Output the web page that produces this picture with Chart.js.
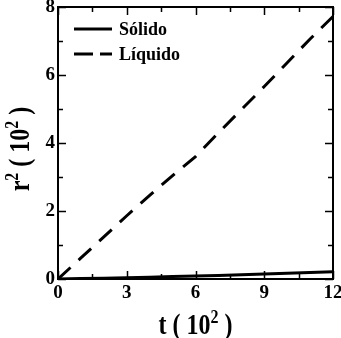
<!DOCTYPE html>
<html>
<head>
<meta charset="utf-8">
<script src="https://cdn.jsdelivr.net/npm/chart.js@4/dist/chart.umd.min.js"></script>
<style>
  html, body { margin: 0; padding: 0; background: #fff; }
  #c { display: block; }
</style>
</head>
<body>
<canvas id="c" width="341" height="338"></canvas>
<script>
// Time axis (units of 10^2)
const t = [0, 1, 2, 3, 4, 5, 6, 7, 8, 9, 10, 11, 12];
// Mean squared displacement r^2 (units of 10^2)
const solido  = [0, 0.012, 0.025, 0.04, 0.055, 0.07, 0.09, 0.105, 0.125, 0.15, 0.17, 0.19, 0.21];
const liquido = [0, 0.62, 1.24, 1.86, 2.46, 3.04, 3.6, 4.3, 4.98, 5.66, 6.36, 7.06, 7.72];

const seriesNames = ['Sólido', 'Líquido'];
const xTicks = [0, 3, 6, 9, 12];
const yTicks = [0, 2, 4, 6, 8];
// Axis titles as [normal, superscript, normal, ...] pieces
const xTitle = ['t ( 10', '2', ' )'];
const yTitle = ['r', '2', ' ( 10', '2', ' )'];

const SERIF = '"Liberation Serif", "Times New Roman", serif';

function toPoints(xs, ys) { return xs.map((x, i) => ({ x: x, y: ys[i] })); }

// Draw text made of alternating normal / superscript pieces, centred on x = 0
function drawSupText(ctx, pieces, size, supSize, rise) {
  const fonts = pieces.map((p, i) => (i % 2 === 0)
    ? 'bold ' + size + 'px ' + SERIF
    : 'bold ' + supSize + 'px ' + SERIF);
  let total = 0;
  const widths = pieces.map((p, i) => { ctx.font = fonts[i]; const w = ctx.measureText(p).width; total += w; return w; });
  let x = -total / 2;
  ctx.textAlign = 'left';
  ctx.textBaseline = 'alphabetic';
  pieces.forEach((p, i) => {
    ctx.font = fonts[i];
    ctx.fillText(p, x, (i % 2 === 0) ? 0 : -rise);
    x += widths[i];
  });
}

const framePlugin = {
  id: 'frame',
  afterDraw(chart) {
    const { ctx, chartArea: a, scales } = chart;
    const xs = scales.x, ys = scales.y;
    ctx.save();
    ctx.strokeStyle = '#000';
    ctx.fillStyle = '#000';

    // inward ticks on all four sides
    ctx.lineWidth = 1.5;
    const MAJ = 8, MIN = 5;
    ctx.beginPath();
    for (let v = 0; v <= 12; v += 1.5) {
      const px = Math.round(xs.getPixelForValue(v)) + 0.5;
      const len = (v % 3 === 0) ? MAJ : MIN;
      ctx.moveTo(px, a.bottom); ctx.lineTo(px, a.bottom - len);
      ctx.moveTo(px, a.top); ctx.lineTo(px, a.top + len);
    }
    for (let v = 0; v <= 8; v += 1) {
      const py = Math.round(ys.getPixelForValue(v)) + 0.5;
      const len = (v % 2 === 0) ? MAJ : MIN;
      ctx.moveTo(a.left, py); ctx.lineTo(a.left + len, py);
      ctx.moveTo(a.right, py); ctx.lineTo(a.right - len, py);
    }
    ctx.stroke();

    // plot frame
    ctx.lineWidth = 2;
    ctx.strokeRect(a.left, a.top, a.right - a.left, a.bottom - a.top);

    // legend
    const ds = chart.data.datasets;
    const lx0 = a.left + 16, lx1 = a.left + 54;
    const rows = [29, 54];
    ds.forEach((d, i) => {
      const y = rows[i];
      ctx.lineWidth = 3;
      ctx.setLineDash(d.borderDash && d.borderDash.length ? [19, 7] : []);
      ctx.beginPath();
      ctx.moveTo(lx0, y); ctx.lineTo(lx1, y);
      ctx.stroke();
      ctx.setLineDash([]);
      ctx.font = 'bold 18px ' + SERIF;
      ctx.textAlign = 'left';
      ctx.textBaseline = 'alphabetic';
      ctx.fillText(d.label, a.left + 61, y + 6);
    });

    // axis titles (slightly tall lettering)
    ctx.save();
    ctx.translate((a.left + a.right) / 2, 334);
    ctx.scale(1, 1.2);
    drawSupText(ctx, xTitle, 24, 16, 9);
    ctx.restore();

    ctx.save();
    ctx.translate(29, (a.top + a.bottom) / 2 + 6);
    ctx.rotate(-Math.PI / 2);
    ctx.scale(1, 1.2);
    drawSupText(ctx, yTitle, 24, 16, 9);
    ctx.restore();

    ctx.restore();
  }
};

new Chart(document.getElementById('c'), {
  type: 'line',
  data: {
    datasets: [
      {
        label: seriesNames[0],
        data: toPoints(t, solido),
        borderColor: '#000',
        borderWidth: 3,
        pointRadius: 0,
        tension: 0,
        fill: false
      },
      {
        label: seriesNames[1],
        data: toPoints(t, liquido),
        borderColor: '#000',
        borderWidth: 3,
        borderDash: [17, 11],
        pointRadius: 0,
        tension: 0,
        fill: false
      }
    ]
  },
  options: {
    responsive: false,
    animation: false,
    devicePixelRatio: 1,
    layout: { padding: { top: 7, right: 8, left: 0, bottom: 0 } },
    plugins: { legend: { display: false }, tooltip: { enabled: false } },
    scales: {
      x: {
        type: 'linear',
        min: 0, max: 12,
        afterBuildTicks(s) { s.ticks = xTicks.map(v => ({ value: v })); },
        afterFit(s) { s.height = 59; s.paddingLeft = 0; s.paddingRight = 0; },
        ticks: {
          color: '#000', padding: 3, maxRotation: 0, autoSkip: false,
          font: { family: SERIF, size: 19, weight: 'bold' }
        },
        grid: { display: false, drawTicks: false },
        border: { display: false }
      },
      y: {
        min: 0, max: 8,
        afterBuildTicks(s) { s.ticks = yTicks.map(v => ({ value: v })); },
        afterFit(s) { s.width = 58; s.paddingTop = 0; s.paddingBottom = 0; },
        ticks: {
          color: '#000', padding: 3, autoSkip: false,
          font: { family: SERIF, size: 19, weight: 'bold' }
        },
        grid: { display: false, drawTicks: false },
        border: { display: false }
      }
    }
  },
  plugins: [framePlugin]
});
</script>
</body>
</html>
